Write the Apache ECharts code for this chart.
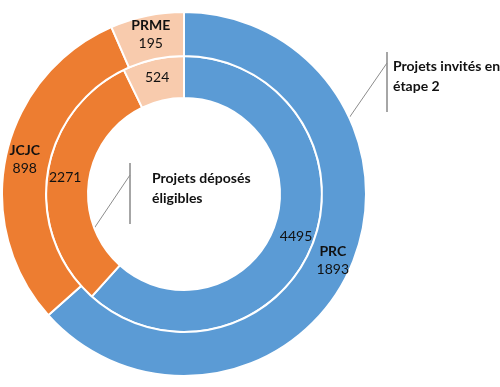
<!DOCTYPE html>
<html><head><meta charset="utf-8">
<script src="https://cdn.jsdelivr.net/npm/echarts@6/dist/echarts.min.js"></script>
<style>html,body{margin:0;padding:0;background:#fff}#c{width:500px;height:387px}</style>
</head><body><div id="c"></div>
<script>
const categories = ['PRC', 'JCJC', 'PRME'];
const invitedValues = [1893, 898, 195];      // outer ring: Projets invités en étape 2
const depositedValues = [4495, 2271, 524];   // inner ring: Projets déposés éligibles
const colors = ['#5B9BD5', '#ED7D31', '#F8CBAD'];
const invitedName = 'Projets invités en\nétape 2';
const depositedName = 'Projets déposés\néligibles';

const FONT = 'Lato';
const chart = echarts.init(document.getElementById('c'));
const mk = vals => vals.map((v, i) => ({ name: categories[i], value: v, itemStyle: { color: colors[i] } }));

chart.setOption({
  animation: false,
  series: [
    {
      type: 'pie', name: depositedName,
      center: [184, 194], radius: [96, 138],
      startAngle: 90, clockwise: true,
      itemStyle: { borderColor: '#fff', borderWidth: 2 },
      label: { position: 'inside', formatter: '{c}', color: '#111', fontFamily: FONT, fontSize: 14 },
      labelLine: { show: false },
      data: mk(depositedValues)
    },
    {
      type: 'pie', name: invitedName,
      center: [184, 194], radius: [138, 182],
      startAngle: 90, clockwise: true,
      itemStyle: { borderColor: '#fff', borderWidth: 2 },
      label: {
        position: 'inside', formatter: '{n|{b}}\n{v|{c}}', color: '#111',
        rich: {
          n: { fontFamily: FONT, fontSize: 14, fontWeight: 'bold', lineHeight: 18, color: '#111' },
          v: { fontFamily: FONT, fontSize: 14, lineHeight: 18, color: '#111' }
        }
      },
      labelLine: { show: false },
      data: mk(invitedValues)
    }
  ],
  graphic: [
    { type: 'line', shape: { x1: 387, y1: 52, x2: 387, y2: 112 }, style: { stroke: '#A6A6A6', lineWidth: 2 } },
    { type: 'line', shape: { x1: 387, y1: 63, x2: 349, y2: 118 }, style: { stroke: '#8C8C8C', lineWidth: 1 } },
    { type: 'text', x: 393, y: 56, style: { text: invitedName, font: 'bold 14px ' + FONT, fill: '#111', lineHeight: 20 } },
    { type: 'line', shape: { x1: 130, y1: 163, x2: 130, y2: 224 }, style: { stroke: '#A6A6A6', lineWidth: 2 } },
    { type: 'line', shape: { x1: 130, y1: 175, x2: 93, y2: 230 }, style: { stroke: '#8C8C8C', lineWidth: 1 } },
    { type: 'text', x: 152, y: 168, style: { text: depositedName, font: 'bold 14px ' + FONT, fill: '#111', lineHeight: 20 } }
  ]
});
</script></body></html>
